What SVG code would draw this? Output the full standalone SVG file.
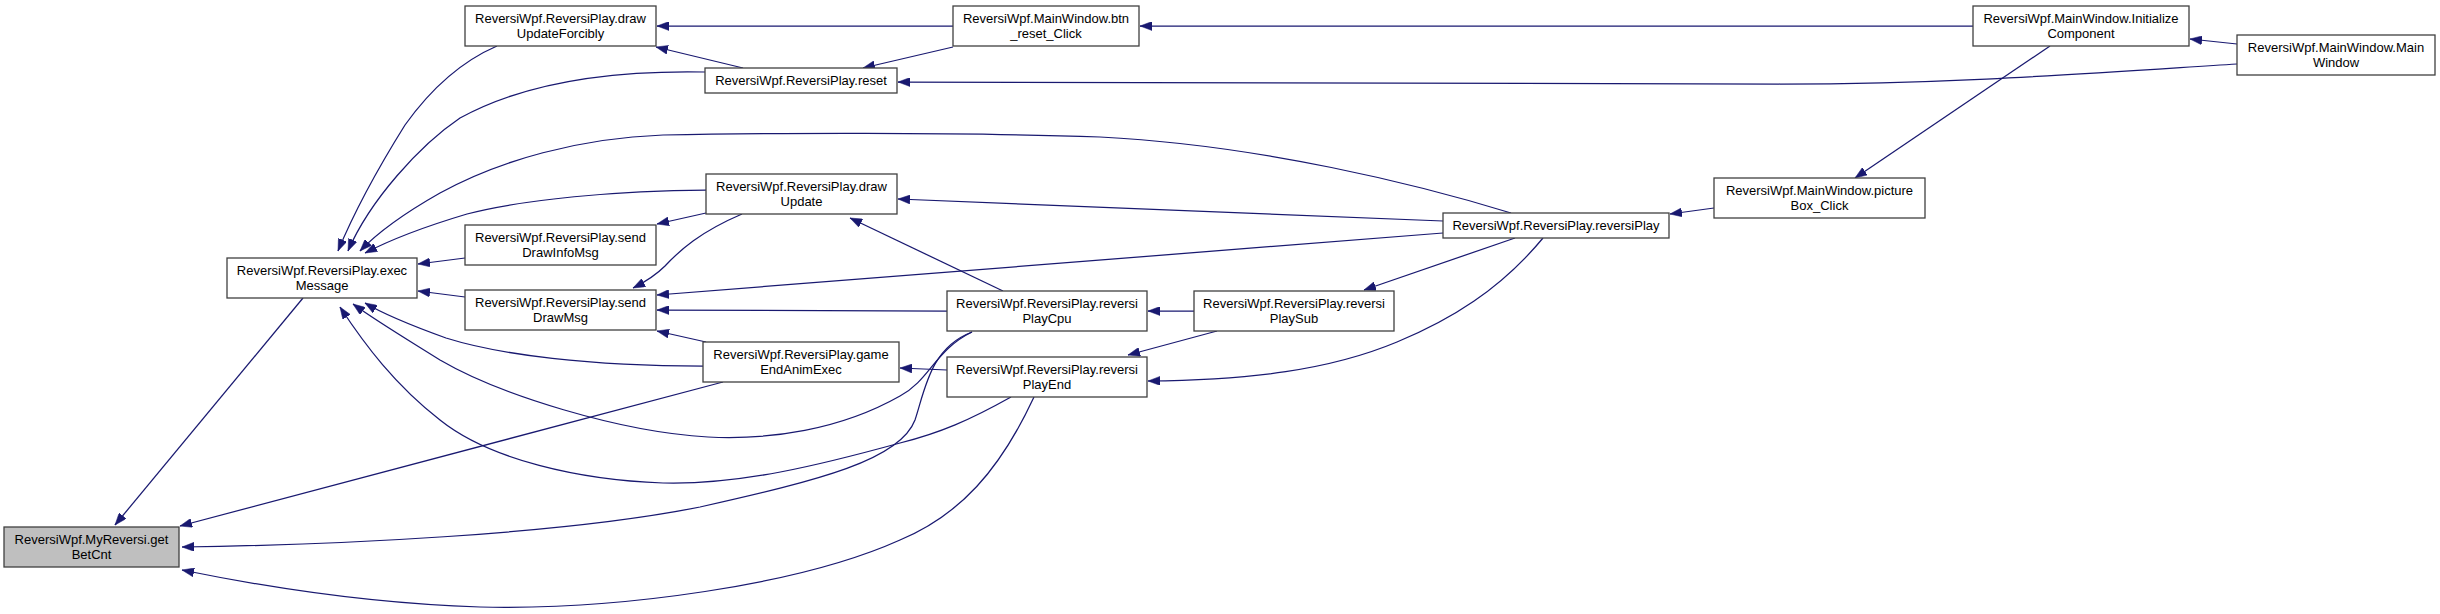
<svg xmlns="http://www.w3.org/2000/svg" width="2440" height="614" viewBox="0 0 2440 614">
<style>
.n rect{fill:#ffffff;stroke:#404040;stroke-width:1.3}
.n.g rect{fill:#bfbfbf}
.n text{font-family:"Liberation Sans",Arial,sans-serif;font-size:13px;fill:#000;text-anchor:middle}
.e path{fill:none;stroke:#191970;stroke-width:1.25;marker-end:url(#ah)}
</style>
<defs>
<marker id="ah" viewBox="0 0 12 9" refX="12" refY="4.5" markerWidth="12" markerHeight="9" markerUnits="userSpaceOnUse" orient="auto">
<path d="M0,0 L12,4.5 L0,9 z" fill="#191970" stroke="#191970" stroke-width="0.5"/>
</marker>
</defs>
<rect x="0" y="0" width="2440" height="614" fill="#ffffff"/>
<g id="connectors" class="e">
<path d="M303,298 L115,525"/>
<path d="M723,382 L180,526"/>
<path d="M972,332 C930,348 925,390 915,420 C900,460 820,480 700,507 C560,535 330,545 182,547"/>
<path d="M1034,397 C1000,470 960,515 900,540 C800,585 620,610 480,607 C380,604 280,590 182,570"/>
<path d="M497,46 C460,62 430,90 405,125 C380,165 355,210 338,251"/>
<path d="M705,72 C600,70 520,85 460,118 C420,145 370,200 348,251"/>
<path d="M1511,213 C1420,185 1260,145 1100,137 C960,132 760,133 663,135 C580,138 500,160 440,193 C410,210 380,230 360,251"/>
<path d="M706,190 C620,190 520,200 467,214 C420,228 390,240 365,253"/>
<path d="M465,258 L418,264"/>
<path d="M465,297 L418,291"/>
<path d="M703,366 C590,366 500,355 446,338 C410,325 385,315 365,303"/>
<path d="M972,332 C935,350 930,380 900,396 C840,430 770,440 708,437 C620,432 500,395 440,360 C400,335 375,320 353,304"/>
<path d="M1011,397 C970,420 940,433 900,443 C820,465 740,485 663,483 C580,480 490,460 440,420 C395,385 365,345 340,307"/>
<path d="M953,26 L657,26"/>
<path d="M743,68 L656,47"/>
<path d="M953,47 L863,68"/>
<path d="M2237,64 C2080,74 1950,84 1780,84 L898,82"/>
<path d="M1973,26 L1140,26"/>
<path d="M2237,44 L2190,39"/>
<path d="M2050,46 L1855,178"/>
<path d="M1714,208 L1670,214"/>
<path d="M1443,221 L898,199"/>
<path d="M1443,233 L657,295"/>
<path d="M1515,238 L1364,290"/>
<path d="M1543,238 C1500,290 1450,320 1397,342 C1330,370 1250,380 1148,381"/>
<path d="M1194,311 L1148,311"/>
<path d="M1217,331 L1128,355"/>
<path d="M947,370 L900,368"/>
<path d="M1003,291 L850,218"/>
<path d="M947,311 L657,310"/>
<path d="M706,342 L657,331"/>
<path d="M742,214 C700,232 680,250 665,266 C655,276 645,282 633,288"/>
<path d="M706,213 L657,224"/>
</g>
<g id="getBetCnt" class="n g"><rect x="4" y="527" width="175" height="40"/><text x="91.5" y="543.5">ReversiWpf.MyReversi.get</text><text x="91.5" y="558.5">BetCnt</text></g>
<g id="execMessage" class="n"><rect x="227" y="258" width="190" height="40"/><text x="322" y="274.5">ReversiWpf.ReversiPlay.exec</text><text x="322" y="289.5">Message</text></g>
<g id="drawUpdateForcibly" class="n"><rect x="465" y="6" width="191" height="40"/><text x="560.5" y="22.5">ReversiWpf.ReversiPlay.draw</text><text x="560.5" y="37.5">UpdateForcibly</text></g>
<g id="sendDrawInfoMsg" class="n"><rect x="465" y="225" width="191" height="40"/><text x="560.5" y="241.5">ReversiWpf.ReversiPlay.send</text><text x="560.5" y="256.5">DrawInfoMsg</text></g>
<g id="sendDrawMsg" class="n"><rect x="465" y="290" width="191" height="40"/><text x="560.5" y="306.5">ReversiWpf.ReversiPlay.send</text><text x="560.5" y="321.5">DrawMsg</text></g>
<g id="reset" class="n"><rect x="705" y="68" width="192" height="25"/><text x="801" y="85">ReversiWpf.ReversiPlay.reset</text></g>
<g id="drawUpdate" class="n"><rect x="706" y="174" width="191" height="40"/><text x="801.5" y="190.5">ReversiWpf.ReversiPlay.draw</text><text x="801.5" y="205.5">Update</text></g>
<g id="gameEndAnimExec" class="n"><rect x="703" y="342" width="196" height="40"/><text x="801" y="358.5">ReversiWpf.ReversiPlay.game</text><text x="801" y="373.5">EndAnimExec</text></g>
<g id="btn_reset_Click" class="n"><rect x="953" y="6" width="186" height="40"/><text x="1046" y="22.5">ReversiWpf.MainWindow.btn</text><text x="1046" y="37.5">_reset_Click</text></g>
<g id="reversiPlayCpu" class="n"><rect x="947" y="291" width="200" height="40"/><text x="1047" y="307.5">ReversiWpf.ReversiPlay.reversi</text><text x="1047" y="322.5">PlayCpu</text></g>
<g id="reversiPlayEnd" class="n"><rect x="947" y="357" width="200" height="40"/><text x="1047" y="373.5">ReversiWpf.ReversiPlay.reversi</text><text x="1047" y="388.5">PlayEnd</text></g>
<g id="reversiPlaySub" class="n"><rect x="1194" y="291" width="200" height="40"/><text x="1294" y="307.5">ReversiWpf.ReversiPlay.reversi</text><text x="1294" y="322.5">PlaySub</text></g>
<g id="reversiPlay" class="n"><rect x="1443" y="213" width="226" height="25"/><text x="1556" y="230">ReversiWpf.ReversiPlay.reversiPlay</text></g>
<g id="pictureBox_Click" class="n"><rect x="1714" y="178" width="211" height="40"/><text x="1819.5" y="194.5">ReversiWpf.MainWindow.picture</text><text x="1819.5" y="209.5">Box_Click</text></g>
<g id="InitializeComponent" class="n"><rect x="1973" y="6" width="216" height="40"/><text x="2081" y="22.5">ReversiWpf.MainWindow.Initialize</text><text x="2081" y="37.5">Component</text></g>
<g id="MainWindow" class="n"><rect x="2237" y="35" width="198" height="40"/><text x="2336" y="51.5">ReversiWpf.MainWindow.Main</text><text x="2336" y="66.5">Window</text></g>
</svg>
